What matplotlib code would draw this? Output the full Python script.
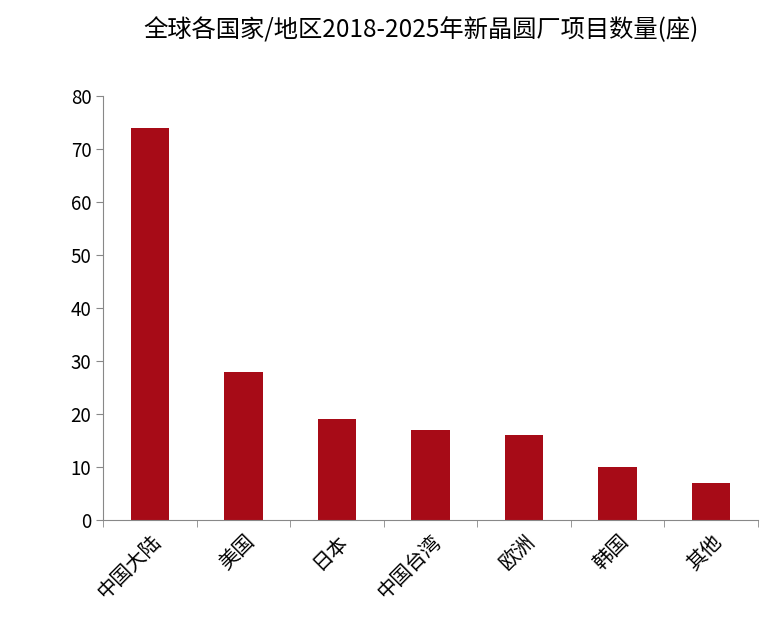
import matplotlib
matplotlib.use("Agg")
import matplotlib.pyplot as plt
import numpy as np

plt.rcParams['font.family'] = ['Noto Sans CJK SC', 'DejaVu Sans']

categories = ["中国大陆", "美国", "日本", "中国台湾", "欧洲", "韩国", "其他"]
values = [74, 28, 19, 17, 16, 10, 7]
title = "全球各国家/地区2018-2025年新晶圆厂项目数量(座)"

fig = plt.figure(figsize=(7.82, 6.28), dpi=100)
ax = fig.add_axes([0.132, 0.172, 0.837, 0.675])
x = np.arange(len(categories))
ax.bar(x, values, width=0.41, color="#A70B17")
ax.set_xlim(-0.5, len(categories) - 0.5)
ax.set_ylim(0, 80)
ax.set_yticks(range(0, 81, 10))
ax.set_xticks(x)
ax.set_xticklabels(categories, rotation=45, ha="right", rotation_mode="anchor", fontsize=14.5)
ax.set_xticks(np.arange(-0.5, len(categories), 1), minor=True)
ax.tick_params(axis="x", which="major", length=0, pad=8)
ax.tick_params(axis="x", which="minor", length=5, direction="out", color="#888888")
ax.tick_params(axis="y", length=5, direction="out", color="#888888", labelsize=13.5)
for s in ["top", "right"]:
    ax.spines[s].set_visible(False)
for s in ["left", "bottom"]:
    ax.spines[s].set_color("#888888")
fig.text(0.538, 0.952, title, ha="center", va="center", fontsize=17.5)
fig.savefig("out.png", dpi=100)
